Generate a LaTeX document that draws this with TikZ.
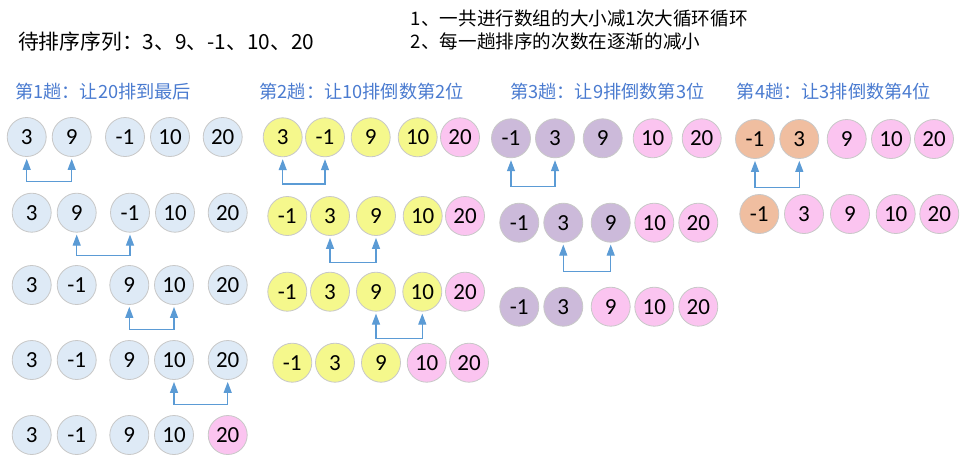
\documentclass[tikz,border=0pt]{standalone}
\usepackage{fontspec}
\setmainfont{Carlito}
\newfontfamily\cjk{Noto Sans CJK SC}
\usetikzlibrary{arrows.meta}
\definecolor{cblue}{RGB}{222,234,246}
\definecolor{cyellow}{RGB}{245,248,140}
\definecolor{cpink}{RGB}{251,196,240}
\definecolor{cpurple}{RGB}{204,186,218}
\definecolor{cpeach}{RGB}{240,190,160}
\definecolor{bordergray}{RGB}{200,200,200}
\definecolor{arrowblue}{RGB}{91,155,213}
\definecolor{headblue}{RGB}{74,123,208}
\tikzset{
  ball/.style={circle, draw=bordergray, line width=0.8pt, minimum size=39pt, inner sep=0pt, font=\fontsize{23}{23}\selectfont},
  swapline/.style={draw=arrowblue, line width=1.2pt, {Triangle[width=8pt,length=11pt]}-{Triangle[width=8pt,length=11pt]}},
  heading/.style={anchor=west, text=headblue, inner sep=0pt, font=\cjk\fontsize{18.2}{18.2}\selectfont},
  titletext/.style={anchor=west, inner sep=0pt, font=\cjk\fontsize{20.8}{20.8}\selectfont},
  notetext/.style={anchor=west, inner sep=0pt, font=\cjk\fontsize{18.6}{18.6}\selectfont},
}
\newcommand\ballrow[3]{%
  \foreach \bx/\bc/\bt [count=\bi] in {#3} {\node[ball, fill=\bc] (#1-\bi) at (\bx,#2) {\bt};}}
\newcommand\swapar[3]{%
  \coordinate (swl) at (0,#3);
  \draw[swapline] ([yshift=-2pt]#1.south) |- (#2.south |- swl) -- ([yshift=-2pt]#2.south);}
\begin{document}
\begin{tikzpicture}[x=1pt,y=-1pt]
\useasboundingbox[fill=white] (0,0) rectangle (967,464);
% texts
\node[titletext] (title) at (18,41.7) {待排序序列：3、9、-1、10、20};
\node[notetext] (note1) at (410.7,18.3) {1、一共进行数组的大小减1次大循环循环};
\node[notetext] (note2) at (410.7,41.7) {2、每一趟排序的次数在逐渐的减小};
\node[heading] (h1) at (15,91.7) {第1趟：让20排到最后};
\node[heading] (h2) at (259.3,91.7) {第2趟：让10排倒数第2位};
\node[heading] (h3) at (510,91.7) {第3趟：让9排倒数第3位};
\node[heading] (h4) at (736.7,91.7) {第4趟：让3排倒数第4位};
% pass 1
\ballrow{a1}{137}{26.7/cblue/3, 71.7/cblue/9, 125/cblue/-1, 170/cblue/10, 222.7/cblue/20}
\ballrow{a2}{212.7}{31.7/cblue/3, 76.7/cblue/9, 130/cblue/-1, 175/cblue/10, 227.7/cblue/20}
\ballrow{a3}{285}{31.7/cblue/3, 76.7/cblue/-1, 129.3/cblue/9, 174/cblue/10, 227.7/cblue/20}
\ballrow{a4}{360}{31.7/cblue/3, 76.7/cblue/-1, 129.3/cblue/9, 174/cblue/10, 227.7/cblue/20}
\ballrow{a5}{435}{31.7/cblue/3, 76.7/cblue/-1, 129.3/cblue/9, 174/cblue/10, 227.7/cpink/20}
\swapar{a1-1}{a1-2}{181.7}
\swapar{a2-2}{a2-3}{255.7}
\swapar{a3-3}{a3-4}{329.3}
\swapar{a4-4}{a4-5}{404.3}
% pass 2
\ballrow{b1}{137.3}{282.7/cyellow/3, 325/cyellow/-1, 370.7/cyellow/9, 417.7/cyellow/10, 460/cpink/20}
\ballrow{b2}{216}{287.3/cyellow/-1, 330/cyellow/3, 376/cyellow/9, 422.7/cyellow/10, 465/cpink/20}
\ballrow{b3}{291.7}{287.3/cyellow/-1, 330/cyellow/3, 376/cyellow/9, 422.3/cyellow/10, 465/cpink/20}
\ballrow{b4}{362.7}{292.3/cyellow/-1, 335/cyellow/3, 381/cyellow/9, 426.7/cpink/10, 469/cpink/20}
\swapar{b1-1}{b1-2}{184}
\swapar{b2-2}{b2-3}{262.7}
\swapar{b3-3}{b3-4}{338.3}
% pass 3
\ballrow{c1}{138.3}{511/cpurple/-1, 555/cpurple/3, 602.7/cpurple/9, 652.7/cpink/10, 701.7/cpink/20}
\ballrow{c2}{222.7}{519.3/cpurple/-1, 563.3/cpurple/3, 610.7/cpurple/9, 654.3/cpink/10, 698.3/cpink/20}
\ballrow{c3}{306.7}{519.3/cpurple/-1, 563.3/cpurple/3, 610.7/cpink/9, 654.3/cpink/10, 698.3/cpink/20}
\swapar{c1-1}{c1-2}{186.7}
\swapar{c2-2}{c2-3}{271.7}
% pass 4
\ballrow{d1}{139}{755/cpeach/-1, 799.3/cpeach/3, 846.7/cpink/9, 891/cpink/10, 934/cpink/20}
\ballrow{d2}{214}{759.3/cpeach/-1, 804/cpink/3, 850/cpink/9, 895.7/cpink/10, 939.3/cpink/20}
\swapar{d1-1}{d1-2}{187.3}
\end{tikzpicture}
\end{document}
